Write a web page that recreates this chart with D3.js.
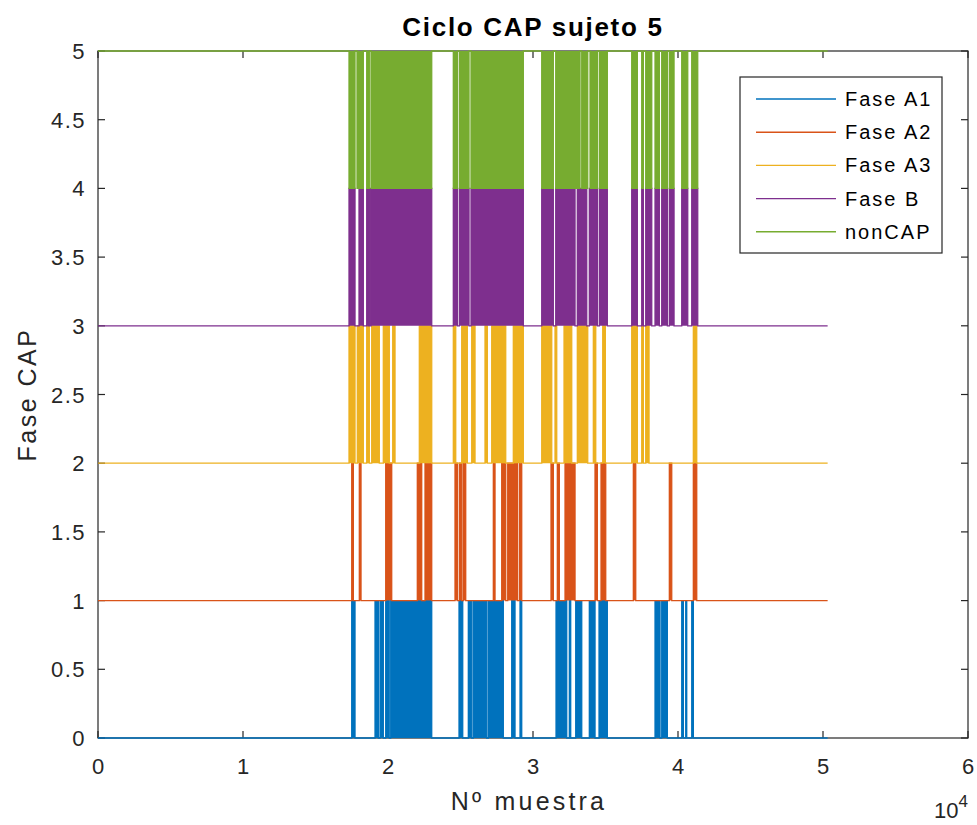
<!DOCTYPE html>
<html>
<head>
<meta charset="utf-8">
<script src="https://cdn.jsdelivr.net/npm/d3@7"></script>
<style>
  body { margin: 0; background: #fff; }
  text { font-family: "Liberation Sans", Arial, Helvetica, sans-serif; fill: #262626; }
</style>
</head>
<body>
<svg id="chart" width="977" height="825"></svg>
<script>
// Phase labels per sample: each [start, end] is a stretch (in sample index)
// where the phase is active; outside those stretches the trace sits at its base level.
const seriesNames  = ["Fase A1", "Fase A2", "Fase A3", "Fase B", "nonCAP"];
const seriesColors = ["#0072BD", "#D95319", "#EDB120", "#7E2F8E", "#77AC30"];
const baseLevels   = [0, 1, 2, 3, 5];
const activeLevels = [1, 2, 3, 4, 4];
const lastSample   = 50320;

const faseA1 = [
  [17498,17725],[19105,19333],[19450,19677],[19843,20084],[20188,23015],
  [24898,25153],[25540,25774],[25884,26808],[26919,27953],[28533,28760],[29105,29222],
  [31589,32326],[32506,32600],[32947,33361],[33885,34278],[34554,35126],
  [38416,38761],[38878,39265],[40258,40368],[40533,40602],[40948,41058]
];
const faseA2 = [
  [17498,17609],[18022,18139],[19843,20256],[22022,22325],[22553,23015],
  [24622,24781],[24919,25084],[25195,25360],[27264,27381],[27843,28119],[28257,28919],[29057,29222],
  [31243,31402],[31678,31816],[32209,32899],[34278,34437],[34692,35016],
  [36920,37085],[39403,39568],[41058,41292]
];
const faseA3 = [
  [17311,17725],[17884,18298],[18532,18711],[18877,19401],[19677,20091],[20326,20484],[22160,23015],
  [24505,24671],[25084,25471],[25774,26002],[26691,26851],[27153,28119],[28643,29333],
  [30602,31292],[31519,31637],[32140,32671],[33057,33775],[34161,34327],[34809,34989],
  [36809,37196],[37499,37609],[37775,38003],[41058,41292]
];
const faseB = [
  [17311,17725],[18001,18298],[18532,18642],[18711,18808],[18829,23015],
  [24505,24781],[24919,25588],[25726,29333],
  [30602,31402],[31568,32899],[33057,33706],[33885,34437],[34575,35126],
  [36809,37196],[37499,37609],[37775,38189],[38416,38713],[38878,39265],[39403,39727],
  [40258,40672],[40948,41361]
];
const nonCAP = [
  [17311,17725],[17863,18298],[18532,18711],[18829,23015],
  [24505,24781],[24919,25588],[25726,29333],
  [30602,31402],[31568,33243],[33361,33775],[33933,34437],[34575,35126],
  [36809,37196],[37499,37609],[37775,38189],[38416,38713],[38878,39265],[39403,39727],
  [40258,40672],[40948,41361]
];
const seriesData = [faseA1, faseA2, faseA3, faseB, nonCAP];

const xTicks = [0, 1, 2, 3, 4, 5, 6];            // in units of 10^4 samples
const yTicks = [0, 0.5, 1, 1.5, 2, 2.5, 3, 3.5, 4, 4.5, 5];

const svg = d3.select("#chart");
const plot = { left: 98, right: 968, top: 51, bottom: 738 };

const x = d3.scaleLinear().domain([0, 60000]).range([plot.left, plot.right]);
const y = d3.scaleLinear().domain([0, 5]).range([plot.bottom, plot.top]);

const axisColor = "#262626";
const tickLen = 7;

// Axis box with inward ticks on all four sides
const axes = svg.append("g");
axes.append("rect")
  .attr("x", plot.left).attr("y", plot.top)
  .attr("width", plot.right - plot.left).attr("height", plot.bottom - plot.top)
  .attr("fill", "none").attr("stroke", axisColor).attr("stroke-width", 1.2);

xTicks.forEach(t => {
  const px = x(t * 1e4);
  axes.append("line").attr("x1", px).attr("x2", px)
    .attr("y1", plot.bottom).attr("y2", plot.bottom - tickLen)
    .attr("stroke", axisColor).attr("stroke-width", 1.2);
  axes.append("line").attr("x1", px).attr("x2", px)
    .attr("y1", plot.top).attr("y2", plot.top + tickLen)
    .attr("stroke", axisColor).attr("stroke-width", 1.2);
  axes.append("text").attr("x", px).attr("y", plot.bottom + 36)
    .attr("text-anchor", "middle").attr("font-size", 22).text(t);
});
yTicks.forEach(t => {
  const py = y(t);
  axes.append("line").attr("x1", plot.left).attr("x2", plot.left + tickLen)
    .attr("y1", py).attr("y2", py)
    .attr("stroke", axisColor).attr("stroke-width", 1.2);
  axes.append("line").attr("x1", plot.right).attr("x2", plot.right - tickLen)
    .attr("y1", py).attr("y2", py)
    .attr("stroke", axisColor).attr("stroke-width", 1.2);
  axes.append("text").attr("x", plot.left - 12).attr("y", py + 8)
    .attr("text-anchor", "end").attr("font-size", 22).attr("letter-spacing", 1.5).text(t);
});

// Step traces: base level, jumping to the active level for each stretch
const line = d3.line().x(d => x(d[0])).y(d => y(d[1]));
seriesData.forEach((runs, i) => {
  const base = baseLevels[i], act = activeLevels[i];
  const pts = [[0, base]];
  runs.forEach(([s, e]) => {
    pts.push([s, base], [s, act], [e, act], [e, base]);
  });
  pts.push([lastSample, base]);
  svg.append("path")
    .attr("d", line(pts))
    .attr("fill", seriesColors[i])
    .attr("stroke", seriesColors[i])
    .attr("stroke-width", 1.3)
    .attr("stroke-linejoin", "miter");
});

// Title and axis labels
svg.append("text").attr("x", (plot.left + plot.right) / 2).attr("y", 36)
  .attr("text-anchor", "middle").attr("font-size", 26).attr("font-weight", "bold")
  .attr("letter-spacing", 1.7).style("fill", "#000").text("Ciclo CAP sujeto 5");
svg.append("text").attr("x", (plot.left + plot.right) / 2 - 4).attr("y", 810)
  .attr("text-anchor", "middle").attr("font-size", 25).attr("letter-spacing", 3.2).text("Nº muestra");
svg.append("text").attr("transform", `translate(36,${(plot.top + plot.bottom) / 2}) rotate(-90)`)
  .attr("text-anchor", "middle").attr("font-size", 25).attr("letter-spacing", 2.5).text("Fase CAP");
const exp = svg.append("text").attr("x", 934).attr("y", 818).attr("font-size", 22);
exp.append("tspan").text("10");
exp.append("tspan").attr("font-size", 17).attr("dy", -11).text("4");

// Legend
const legend = svg.append("g");
legend.append("rect").attr("x", 740).attr("y", 77).attr("width", 202).attr("height", 176)
  .attr("fill", "#fff").attr("stroke", axisColor).attr("stroke-width", 1.2);
seriesNames.forEach((name, i) => {
  const ly = 99 + i * 33.2;
  legend.append("line").attr("x1", 756).attr("x2", 836).attr("y1", ly).attr("y2", ly)
    .attr("stroke", seriesColors[i]).attr("stroke-width", 1.4);
  legend.append("text").attr("x", 845).attr("y", ly + 7).attr("font-size", 20)
    .attr("letter-spacing", 2).style("fill", "#000").text(name);
});
</script>
</body>
</html>
